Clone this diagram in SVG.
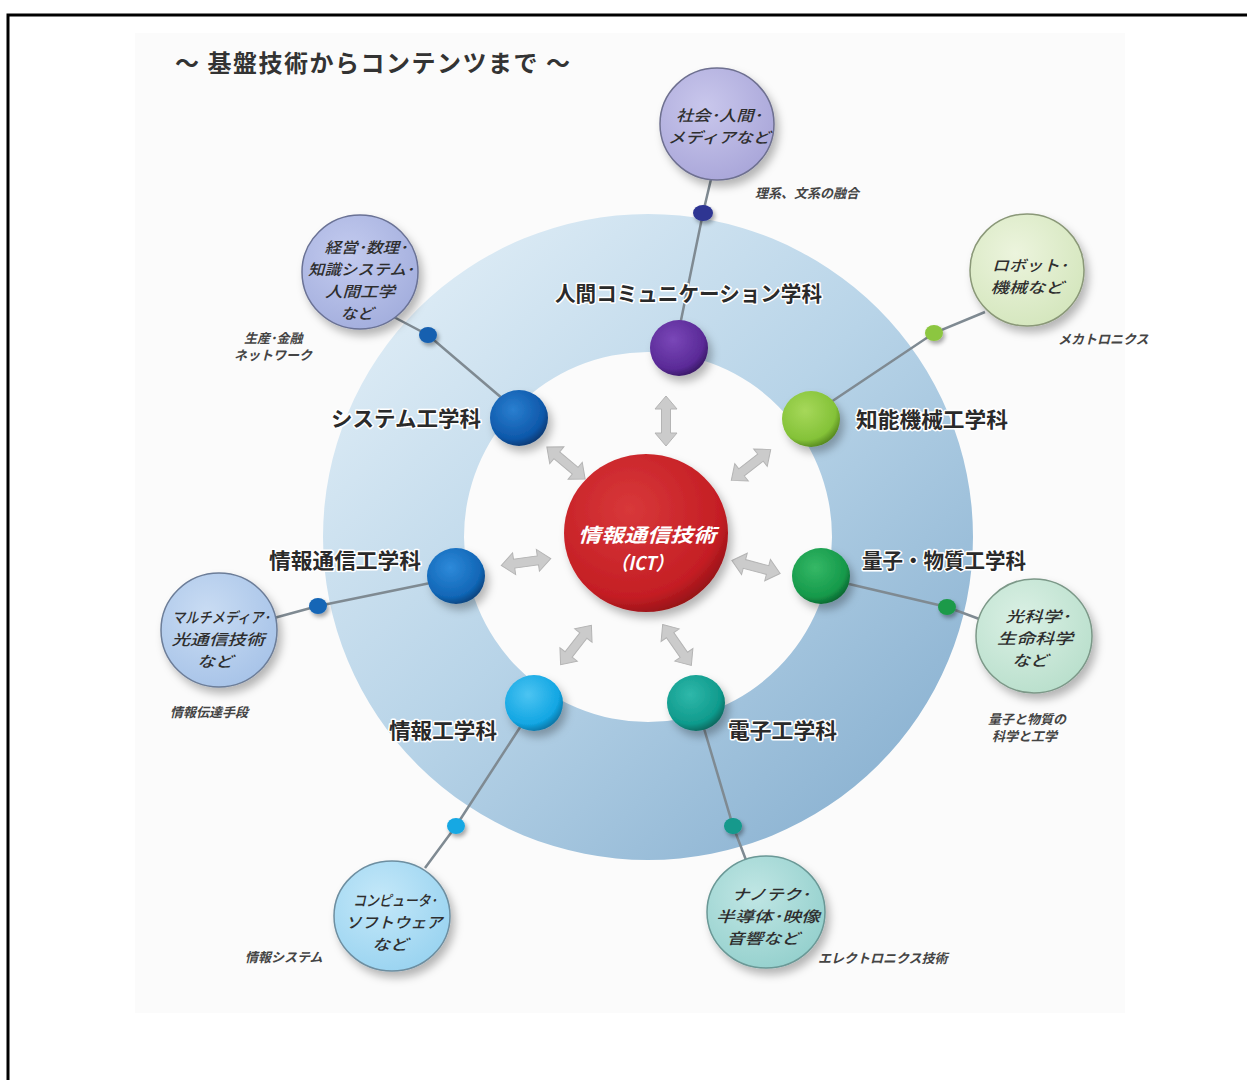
<svg xmlns="http://www.w3.org/2000/svg" width="1247" height="1080" viewBox="0 0 1247 1080">
<defs>
<style>
.title{font-family:"Noto Sans CJK JP","Noto Sans",sans-serif;font-size:24px;font-weight:bold;fill:#333;letter-spacing:1.5px}
.dept{font-family:"Noto Sans CJK JP","Noto Sans",sans-serif;font-size:21px;font-weight:bold;fill:#2a2a2a;stroke:#fff;stroke-width:3px;paint-order:stroke;stroke-linejoin:round}
.bub{font-family:"Noto Sans CJK JP","Noto Sans",sans-serif;font-size:15px;font-style:italic;font-weight:500;fill:#2e2e2e;text-anchor:middle}
.note{font-family:"Noto Sans CJK JP","Noto Sans",sans-serif;font-size:13px;font-style:italic;font-weight:bold;fill:#444}
.ict{font-family:"Noto Sans CJK JP","Noto Sans",sans-serif;font-size:19px;font-style:italic;font-weight:bold;fill:#fff;text-anchor:middle}
.link{stroke:#7f8a92;stroke-width:2.5;fill:none}
.arrow{fill:#cbcbcb;stroke:#b4b4b4;stroke-width:1}
</style>
<filter id="sh" x="-30%" y="-30%" width="170%" height="170%">
<feDropShadow dx="4" dy="6" stdDeviation="4" flood-color="#000" flood-opacity="0.28"/>
</filter>
<filter id="shs" x="-50%" y="-50%" width="200%" height="200%">
<feDropShadow dx="2" dy="3" stdDeviation="2" flood-color="#000" flood-opacity="0.35"/>
</filter>
<linearGradient id="ring" x1="0.15" y1="0.1" x2="0.85" y2="0.85">
<stop offset="0" stop-color="#dcebf5"/>
<stop offset="0.5" stop-color="#b8d4e8"/>
<stop offset="1" stop-color="#90b6d4"/>
</linearGradient>
<radialGradient id="gRed" cx="0.4" cy="0.35" r="0.7"><stop offset="0" stop-color="#d8383a"/><stop offset="0.8" stop-color="#c41e24"/><stop offset="1" stop-color="#8e1015"/></radialGradient>
<radialGradient id="gPur" cx="0.4" cy="0.35" r="0.7"><stop offset="0" stop-color="#7a47b8"/><stop offset="0.75" stop-color="#5a2a97"/><stop offset="1" stop-color="#34165e"/></radialGradient>
<radialGradient id="gBlu" cx="0.4" cy="0.35" r="0.7"><stop offset="0" stop-color="#2a7fd0"/><stop offset="0.75" stop-color="#0e58aa"/><stop offset="1" stop-color="#07346a"/></radialGradient>
<radialGradient id="gBlu2" cx="0.4" cy="0.35" r="0.7"><stop offset="0" stop-color="#2e8ada"/><stop offset="0.75" stop-color="#1166b6"/><stop offset="1" stop-color="#083d74"/></radialGradient>
<radialGradient id="gLbl" cx="0.4" cy="0.35" r="0.7"><stop offset="0" stop-color="#4cc4f2"/><stop offset="0.75" stop-color="#12a6e3"/><stop offset="1" stop-color="#0a6d9b"/></radialGradient>
<radialGradient id="gTeal" cx="0.4" cy="0.35" r="0.7"><stop offset="0" stop-color="#2fb8aa"/><stop offset="0.75" stop-color="#0f9a8c"/><stop offset="1" stop-color="#075f56"/></radialGradient>
<radialGradient id="gGrn" cx="0.4" cy="0.35" r="0.7"><stop offset="0" stop-color="#35b866"/><stop offset="0.75" stop-color="#15994a"/><stop offset="1" stop-color="#0a5e2c"/></radialGradient>
<radialGradient id="gLgr" cx="0.4" cy="0.35" r="0.7"><stop offset="0" stop-color="#a6d85a"/><stop offset="0.75" stop-color="#84c238"/><stop offset="1" stop-color="#4d7d1a"/></radialGradient>
<radialGradient id="bTop" cx="0.4" cy="0.35" r="0.7"><stop offset="0" stop-color="#c9c7ec"/><stop offset="1" stop-color="#a9a6d9"/></radialGradient>
<radialGradient id="bSys" cx="0.4" cy="0.35" r="0.7"><stop offset="0" stop-color="#c3cbef"/><stop offset="1" stop-color="#a3aedd"/></radialGradient>
<radialGradient id="bRob" cx="0.4" cy="0.35" r="0.7"><stop offset="0" stop-color="#ecf4dd"/><stop offset="1" stop-color="#d4e6bd"/></radialGradient>
<radialGradient id="bMul" cx="0.4" cy="0.35" r="0.7"><stop offset="0" stop-color="#c9dcf3"/><stop offset="1" stop-color="#a7c3e8"/></radialGradient>
<radialGradient id="bLig" cx="0.4" cy="0.35" r="0.7"><stop offset="0" stop-color="#daf0e4"/><stop offset="1" stop-color="#b9dfcc"/></radialGradient>
<radialGradient id="bCom" cx="0.4" cy="0.35" r="0.7"><stop offset="0" stop-color="#c4e8f9"/><stop offset="1" stop-color="#99d3f0"/></radialGradient>
<radialGradient id="bNan" cx="0.4" cy="0.35" r="0.7"><stop offset="0" stop-color="#c0e6e4"/><stop offset="1" stop-color="#94d0cd"/></radialGradient>
<path id="dbl" d="M -25 0 L -12 -11 L -12 -4.5 L 12 -4.5 L 12 -11 L 25 0 L 12 11 L 12 4.5 L -12 4.5 L -12 11 Z"/>
</defs>

<rect x="0" y="0" width="1247" height="1080" fill="#fff"/>
<rect x="135" y="33" width="990" height="980" fill="#fbfbfb"/>
<path d="M 8 1080 L 8 15 L 1247 15" fill="none" stroke="#000" stroke-width="3"/>

<text id="title" class="title" x="175" y="72">～ 基盤技術からコンテンツまで ～</text>

<g id="ring">
<path d="M 323 537 A 325 323 0 1 0 973 537 A 325 323 0 1 0 323 537 Z M 464 537 A 184 185 0 1 1 832 537 A 184 185 0 1 1 464 537 Z" fill="url(#ring)" fill-rule="evenodd"/>
</g>

<g id="connectors">
<polyline class="link" points="712,175 703,213 679,330"/>
<polyline class="link" points="390,315 428,335 510,405"/>
<polyline class="link" points="985,312 934,333 822,408"/>
<polyline class="link" points="274,618 318,606 445,580"/>
<polyline class="link" points="832,580 947,607 982,620"/>
<polyline class="link" points="528,715 456,826 425,868"/>
<polyline class="link" points="700,715 733,826 746,860"/>
<g class="arrow">
<use href="#dbl" transform="translate(666,421) rotate(90)"/>
<use href="#dbl" transform="translate(566,463) rotate(40)"/>
<use href="#dbl" transform="translate(751,465) rotate(-38)"/>
<use href="#dbl" transform="translate(526,562) rotate(-8)"/>
<use href="#dbl" transform="translate(756,567) rotate(15)"/>
<use href="#dbl" transform="translate(576,645) rotate(-52)"/>
<use href="#dbl" transform="translate(677,645) rotate(55)"/>
</g>
</g>

<g id="dots" filter="url(#shs)">
<ellipse cx="703" cy="213" rx="10" ry="8" fill="#2d3592"/>
<ellipse cx="428" cy="335" rx="9" ry="8" fill="#1560b0"/>
<ellipse cx="934" cy="333" rx="9" ry="8" fill="#8cc63f"/>
<ellipse cx="318" cy="606" rx="9" ry="8" fill="#1466b6"/>
<ellipse cx="947" cy="607" rx="9" ry="8" fill="#1c9a4a"/>
<ellipse cx="456" cy="826" rx="9" ry="8" fill="#19a8e3"/>
<ellipse cx="733" cy="826" rx="9" ry="8" fill="#12998c"/>
</g>

<g id="n-ict">
<ellipse cx="646" cy="533" rx="82" ry="79" fill="url(#gRed)" filter="url(#sh)"/>
<text class="ict" x="647" y="542" textLength="138" lengthAdjust="spacingAndGlyphs">情報通信技術</text>
<text class="ict" x="642" y="570" textLength="62" lengthAdjust="spacingAndGlyphs">（ICT）</text>
</g>

<g id="n-human">
<ellipse cx="679" cy="348" rx="29" ry="28" fill="url(#gPur)" filter="url(#sh)"/>
<text class="dept" x="555" y="301" textLength="267" lengthAdjust="spacingAndGlyphs">人間コミュニケーション学科</text>
</g>
<g id="n-system">
<ellipse cx="519" cy="418" rx="29" ry="28" fill="url(#gBlu)" filter="url(#sh)"/>
<text class="dept" x="331" y="426" textLength="150" lengthAdjust="spacingAndGlyphs">システム工学科</text>
</g>
<g id="n-mech">
<ellipse cx="811" cy="419" rx="29" ry="28" fill="url(#gLgr)" filter="url(#sh)"/>
<text class="dept" x="856" y="427" textLength="152" lengthAdjust="spacingAndGlyphs">知能機械工学科</text>
</g>
<g id="n-infocomm">
<ellipse cx="456" cy="576" rx="29" ry="28" fill="url(#gBlu2)" filter="url(#sh)"/>
<text class="dept" x="269" y="568" textLength="152" lengthAdjust="spacingAndGlyphs">情報通信工学科</text>
</g>
<g id="n-quantum">
<ellipse cx="821" cy="576" rx="29" ry="28" fill="url(#gGrn)" filter="url(#sh)"/>
<text class="dept" x="862" y="568" textLength="164" lengthAdjust="spacingAndGlyphs">量子・物質工学科</text>
</g>
<g id="n-infoeng">
<ellipse cx="534" cy="703" rx="29" ry="28" fill="url(#gLbl)" filter="url(#sh)"/>
<text class="dept" x="389" y="738" textLength="108" lengthAdjust="spacingAndGlyphs">情報工学科</text>
</g>
<g id="n-elec">
<ellipse cx="696" cy="703" rx="29" ry="28" fill="url(#gTeal)" filter="url(#sh)"/>
<text class="dept" x="728" y="738" textLength="109" lengthAdjust="spacingAndGlyphs">電子工学科</text>
</g>

<g id="b-media">
<ellipse cx="717" cy="124" rx="57" ry="56" fill="url(#bTop)" stroke="#6e7090" stroke-width="1.5" filter="url(#sh)"/>
<text class="bub" x="719" y="121" textLength="86" lengthAdjust="spacingAndGlyphs">社会･人間･</text>
<text class="bub" x="719" y="143" textLength="102" lengthAdjust="spacingAndGlyphs">メディアなど</text>
<text class="note" x="755" y="198">理系、文系の融合</text>
</g>
<g id="b-mgmt">
<ellipse cx="360" cy="272" rx="58" ry="57" fill="url(#bSys)" stroke="#6a7295" stroke-width="1.5" filter="url(#sh)"/>
<text class="bub" x="366" y="253" textLength="83" lengthAdjust="spacingAndGlyphs">経営･数理･</text>
<text class="bub" x="361" y="275" textLength="106" lengthAdjust="spacingAndGlyphs">知識システム･</text>
<text class="bub" x="360" y="297" textLength="70" lengthAdjust="spacingAndGlyphs">人間工学</text>
<text class="bub" x="357" y="319" textLength="33" lengthAdjust="spacingAndGlyphs">など</text>
<text class="note" x="244" y="343">生産･金融</text>
<text class="note" x="234" y="360">ネットワーク</text>
</g>
<g id="b-robot">
<ellipse cx="1027" cy="270" rx="57" ry="56" fill="url(#bRob)" stroke="#8a9878" stroke-width="1.5" filter="url(#sh)"/>
<text class="bub" x="1030" y="271" textLength="76" lengthAdjust="spacingAndGlyphs">ロボット･</text>
<text class="bub" x="1027" y="293" textLength="73" lengthAdjust="spacingAndGlyphs">機械など</text>
<text class="note" x="1058" y="344">メカトロニクス</text>
</g>
<g id="b-multi">
<ellipse cx="219" cy="630" rx="58" ry="57" fill="url(#bMul)" stroke="#6c7d98" stroke-width="1.5" filter="url(#sh)"/>
<text class="bub" x="221" y="623" textLength="98" lengthAdjust="spacingAndGlyphs">マルチメディア･</text>
<text class="bub" x="218" y="645" textLength="93" lengthAdjust="spacingAndGlyphs">光通信技術</text>
<text class="bub" x="215" y="667" textLength="36" lengthAdjust="spacingAndGlyphs">など</text>
<text class="note" x="170" y="717">情報伝達手段</text>
</g>
<g id="b-light">
<ellipse cx="1034" cy="636" rx="58" ry="57" fill="url(#bLig)" stroke="#7c9888" stroke-width="1.5" filter="url(#sh)"/>
<text class="bub" x="1038" y="622" textLength="65" lengthAdjust="spacingAndGlyphs">光科学･</text>
<text class="bub" x="1035" y="644" textLength="76" lengthAdjust="spacingAndGlyphs">生命科学</text>
<text class="bub" x="1030" y="666" textLength="36" lengthAdjust="spacingAndGlyphs">など</text>
<text class="note" x="988" y="724">量子と物質の</text>
<text class="note" x="992" y="741">科学と工学</text>
</g>
<g id="b-comp">
<ellipse cx="392" cy="916" rx="58" ry="55" fill="url(#bCom)" stroke="#6d8ea0" stroke-width="1.5" filter="url(#sh)"/>
<text class="bub" x="395" y="906" textLength="84" lengthAdjust="spacingAndGlyphs">コンピュータ･</text>
<text class="bub" x="394" y="928" textLength="97" lengthAdjust="spacingAndGlyphs">ソフトウェア</text>
<text class="bub" x="390" y="950" textLength="36" lengthAdjust="spacingAndGlyphs">など</text>
<text class="note" x="245" y="962">情報システム</text>
</g>
<g id="b-nano">
<ellipse cx="766" cy="912" rx="59" ry="56" fill="url(#bNan)" stroke="#6a9896" stroke-width="1.5" filter="url(#sh)"/>
<text class="bub" x="771" y="900" textLength="78" lengthAdjust="spacingAndGlyphs">ナノテク･</text>
<text class="bub" x="768" y="922" textLength="104" lengthAdjust="spacingAndGlyphs">半導体･映像</text>
<text class="bub" x="763" y="944" textLength="73" lengthAdjust="spacingAndGlyphs">音響など</text>
<text class="note" x="818" y="963">エレクトロニクス技術</text>
</g>
</svg>
